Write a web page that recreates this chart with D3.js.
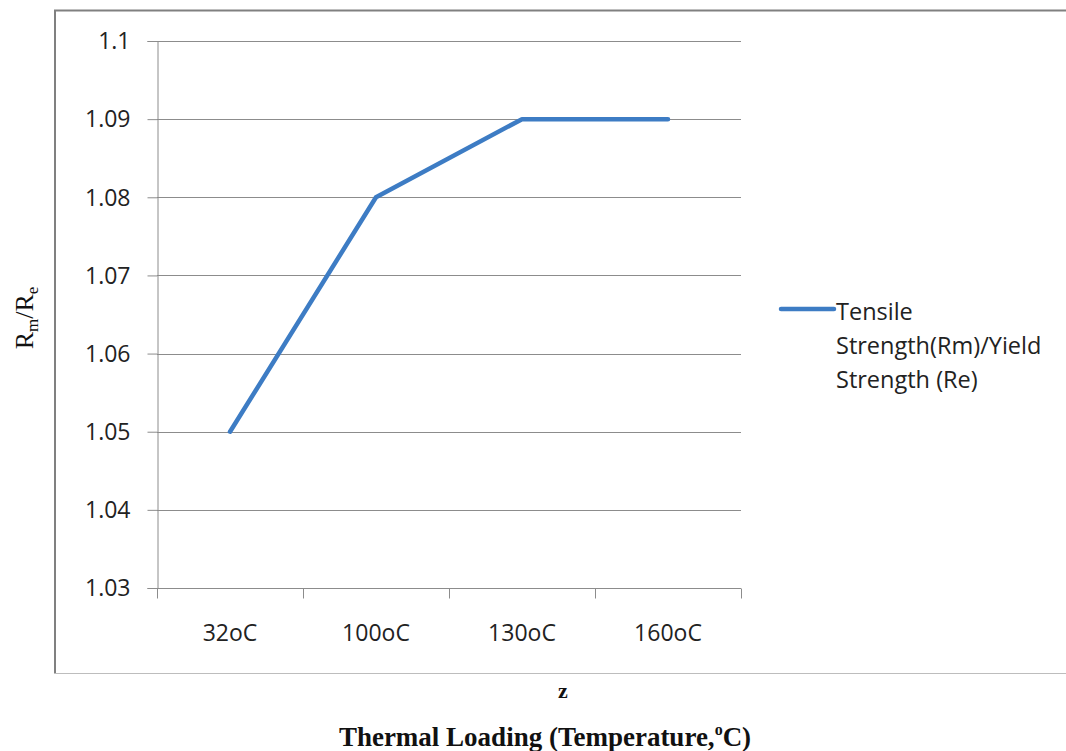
<!DOCTYPE html>
<html>
<head>
<meta charset="utf-8">
<script src="https://cdn.jsdelivr.net/npm/d3@7"></script>
<style>
  body { margin: 0; background: #fff; }
  svg { display: block; }
</style>
</head>
<body>
<div id="chart"></div>
<script>
// values
const categories = ['32oC', '100oC', '130oC', '160oC'];
const ratio = [1.05, 1.08, 1.09, 1.09];
const yTicks = [1.03, 1.04, 1.05, 1.06, 1.07, 1.08, 1.09, 1.1];
const seriesName = ['Tensile', 'Strength(Rm)/Yield', 'Strength (Re)'];

const W = 1066, H = 751;
const plot = { left: 157, right: 741, top: 41, bottom: 588 };
const labelFont = '"Open Sans", sans-serif';
const serif = '"Liberation Serif", "Times New Roman", serif';

const svg = d3.select('#chart').append('svg')
  .attr('width', W)
  .attr('height', H);

// outer chart frame (left + top darker, bottom light, right cut off)
svg.append('line')
  .attr('x1', 55).attr('y1', 10).attr('x2', 55).attr('y2', 673)
  .attr('stroke', '#808080').attr('stroke-width', 2);
svg.append('line')
  .attr('x1', 54).attr('y1', 10.5).attr('x2', W).attr('y2', 10.5)
  .attr('stroke', '#808080').attr('stroke-width', 2);
svg.append('line')
  .attr('x1', 54).attr('y1', 673.5).attr('x2', W).attr('y2', 673.5)
  .attr('stroke', '#bdbdbd').attr('stroke-width', 1);

const x = d3.scaleBand()
  .domain(categories)
  .range([plot.left, plot.right]);

const y = d3.scaleLinear()
  .domain([1.03, 1.1])
  .range([plot.bottom, plot.top]);

// horizontal gridlines
svg.append('g')
  .selectAll('line')
  .data(yTicks)
  .join('line')
    .attr('x1', plot.left)
    .attr('x2', plot.right)
    .attr('y1', d => Math.round(y(d)) + 0.5)
    .attr('y2', d => Math.round(y(d)) + 0.5)
    .attr('stroke', '#8c8c8c')
    .attr('stroke-width', 1);

// y axis
const yAxis = svg.append('g')
  .attr('transform', `translate(${plot.left + 0.5},0)`)
  .call(d3.axisLeft(y).tickValues(yTicks).tickSize(10).tickPadding(17)
    .tickFormat(d => String(+d.toFixed(2))));
yAxis.select('.domain').attr('stroke', '#8c8c8c');
yAxis.selectAll('.tick line').attr('stroke', '#8c8c8c');
yAxis.selectAll('.tick text')
  .attr('font-family', labelFont)
  .attr('font-size', 23)
  .attr('dy', '0.34em')
  .attr('fill', '#222');

// x axis: ticks sit on the band edges
const xAxis = svg.append('g')
  .attr('transform', `translate(0,${Math.round(plot.bottom) + 0.5})`);
xAxis.append('line')
  .attr('x1', plot.left).attr('x2', plot.right)
  .attr('stroke', '#8c8c8c');
const edges = categories.map(c => x(c)).concat([x(categories[categories.length - 1]) + x.bandwidth()]);
xAxis.selectAll('line.tk')
  .data(edges)
  .join('line')
    .attr('class', 'tk')
    .attr('x1', d => Math.round(d) + 0.5)
    .attr('x2', d => Math.round(d) + 0.5)
    .attr('y1', 0).attr('y2', 10)
    .attr('stroke', '#8c8c8c');
xAxis.selectAll('text')
  .data(categories)
  .join('text')
    .attr('x', d => x(d) + x.bandwidth() / 2)
    .attr('y', 52)
    .attr('text-anchor', 'middle')
    .attr('font-family', labelFont)
    .attr('font-size', 23)
    .attr('fill', '#222')
    .text(d => d);

// series line
const line = d3.line()
  .x((d, i) => x(categories[i]) + x.bandwidth() / 2)
  .y(d => y(d));

svg.append('path')
  .datum(ratio)
  .attr('d', line)
  .attr('fill', 'none')
  .attr('stroke', '#3d7cc4')
  .attr('stroke-width', 4.5)
  .attr('stroke-linecap', 'round')
  .attr('stroke-linejoin', 'round');

// legend
const lg = svg.append('g').attr('transform', 'translate(781,309)');
lg.append('line')
  .attr('x1', 0).attr('x2', 53).attr('y1', 0).attr('y2', 0)
  .attr('stroke', '#3d7cc4').attr('stroke-width', 4.5)
  .attr('stroke-linecap', 'round');
lg.append('text')
  .attr('y', 11)
  .attr('font-family', labelFont)
  .attr('font-size', 23.5)
  .attr('fill', '#222')
  .selectAll('tspan')
  .data(seriesName)
  .join('tspan')
    .attr('x', 55)
    .attr('dy', (d, i) => i === 0 ? 0 : 34)
    .text(d => d);

// y title Rm/Re
const yt = svg.append('text')
  .attr('transform', 'translate(33,318) rotate(-90)')
  .attr('text-anchor', 'middle')
  .attr('font-family', serif)
  .attr('font-size', 26)
  .attr('fill', '#111');
yt.append('tspan').text('R');
yt.append('tspan').attr('font-size', 17).attr('dy', 5).text('m');
yt.append('tspan').attr('dy', -5).text('/R');
yt.append('tspan').attr('font-size', 17).attr('dy', 5).text('e');

// labels under the frame
svg.append('text')
  .attr('x', 563)
  .attr('y', 698)
  .attr('text-anchor', 'middle')
  .attr('font-family', serif)
  .attr('font-weight', 'bold')
  .attr('font-size', 22)
  .attr('fill', '#111')
  .text('z');

const xt = svg.append('text')
  .attr('x', 545)
  .attr('y', 746)
  .attr('text-anchor', 'middle')
  .attr('font-family', serif)
  .attr('font-weight', 'bold')
  .attr('font-size', 27)
  .attr('fill', '#111');
xt.append('tspan').text('Thermal Loading (Temperature,');
xt.append('tspan').attr('font-size', 16).attr('dy', -11).text('o');
xt.append('tspan').attr('dy', 11).text('C)');
</script>
</body>
</html>
